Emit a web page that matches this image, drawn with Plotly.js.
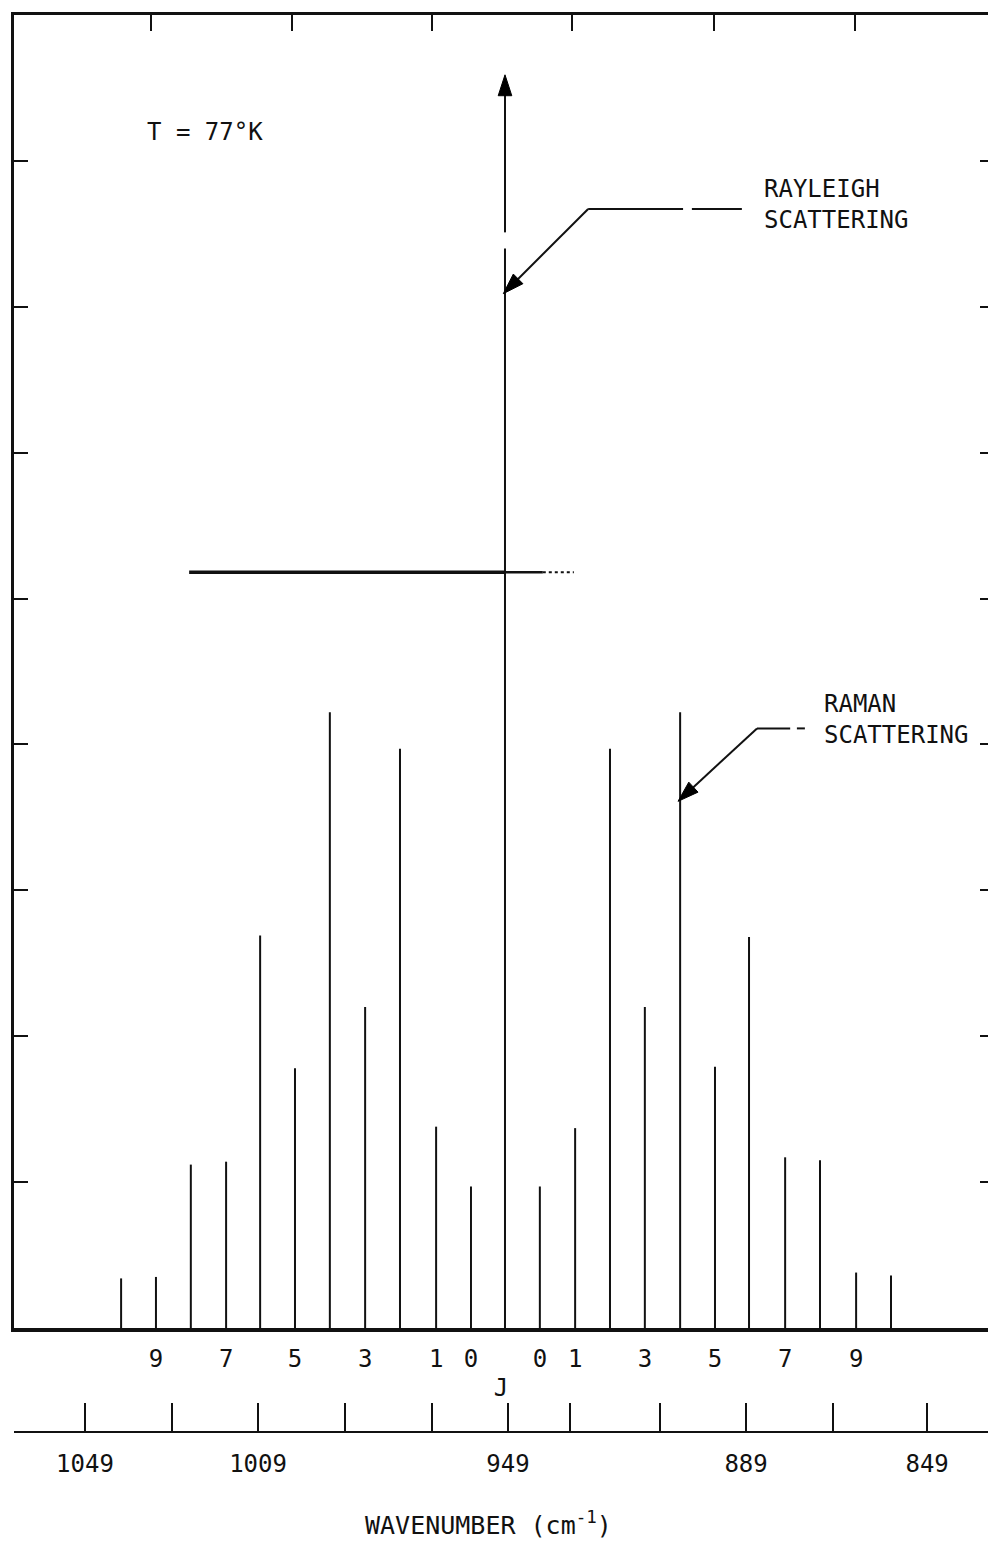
<!DOCTYPE html>
<html>
<head>
<meta charset="utf-8">
<script src="https://cdn.plot.ly/plotly-3.0.1.min.js"></script>
<style>
  html, body { margin: 0; padding: 0; background: #fff; }
  #chart { width: 988px; height: 1545px; }
</style>
</head>
<body>
<div id="chart"></div>
<script>
// ---- data ----
// anti-Stokes side (left), J = 10 ... 0
const jLeft      = [10, 9, 8, 7, 6, 5, 4, 3, 2, 1, 0];
const wnLeft     = [1040.4, 1032.1, 1023.8, 1015.4, 1007.3, 999.0, 990.7, 982.3, 974.0, 965.4, 957.1];
const intLeft    = [0.34, 0.35, 1.12, 1.14, 2.69, 1.78, 4.22, 2.20, 3.97, 1.38, 0.97];
// Stokes side (right), J = 0 ... 10
const jRight     = [0, 1, 2, 3, 4, 5, 6, 7, 8, 9, 10];
const wnRight    = [940.7, 932.3, 924.0, 915.7, 907.3, 899.0, 890.9, 882.3, 874.0, 865.4, 857.1];
const intRight   = [0.97, 1.37, 3.97, 2.20, 4.22, 1.79, 2.68, 1.17, 1.15, 0.38, 0.36];
// Rayleigh line (off scale, arrow)
const rayleighWn  = 949;
const rayleighInt = 8.59;
const rayleighGap = [7.40, 7.51];
// hand-drawn reference line
const refLineWn = [1024.2, 949.0, 940.0, 932.6];
const refLineY  = 5.18;
// J labels shown under the lines
const jLabelSet = [0, 1, 3, 5, 7, 9];
// wavenumber axis ticks
const wnTickVals = [1049, 1028.3, 1007.8, 987.1, 966.4, 948.3, 933.5, 912.1, 891.6, 870.9, 848.5];
const wnTickText = ['1049', ' ', '1009', ' ', ' ', '949', ' ', ' ', '889', ' ', '849'];
// top frame ticks
const topTickVals = [1033.3, 999.7, 966.4, 933.0, 899.2, 865.7];
// intensity frame ticks
const yTickVals = [1, 2, 3, 4, 5, 6, 7, 8];
// callout pointers: [tailX, tailY, tipX, tipY]
const rayleighPointer = [929.2, 7.67, 949.4, 7.09];
const ramanPointer    = [889.0, 4.11, 907.8, 3.61];

const FONT = 'DejaVu Sans Mono, monospace';
const INK = '#111';
const FS = 24;
const xRange = [1065.9, 834.0];

// build the stick spectrum
const lx = [], ly = [];
function stick(x, h) { lx.push(x, x, null); ly.push(0, h, null); }
wnLeft.forEach((w, i) => stick(w, intLeft[i]));
wnRight.forEach((w, i) => stick(w, intRight[i]));
// Rayleigh line with small break
lx.push(rayleighWn, rayleighWn, null, rayleighWn, rayleighWn, null);
ly.push(0, rayleighGap[0], null, rayleighGap[1], rayleighInt - 0.15, null);

const jTickVals = [], jTickText = [];
jLeft.forEach((j, i) => { if (jLabelSet.includes(j)) { jTickVals.push(wnLeft[i]); jTickText.push(String(j)); } });
jRight.forEach((j, i) => { if (jLabelSet.includes(j)) { jTickVals.push(wnRight[i]); jTickText.push(String(j)); } });

function arrowTrace(tx, ty, hx, hy, size) {
  return { x: [tx, hx], y: [ty, hy], type: 'scatter', mode: 'lines+markers',
    line: { color: INK, width: 2 },
    marker: { symbol: 'arrow', size: [0, size], angleref: 'previous', color: '#000', opacity: 1, line: { width: 1, color: '#000' } },
    hoverinfo: 'skip', showlegend: false };
}

const traces = [
  { x: lx, y: ly, type: 'scatter', mode: 'lines', line: { color: INK, width: 2 }, hoverinfo: 'skip', showlegend: false },
  { x: refLineWn.slice(0, 2), y: [refLineY, refLineY], type: 'scatter', mode: 'lines', line: { color: INK, width: 3.5 }, hoverinfo: 'skip', showlegend: false },
  { x: refLineWn.slice(1, 3), y: [refLineY, refLineY], type: 'scatter', mode: 'lines', line: { color: INK, width: 2.5 }, hoverinfo: 'skip', showlegend: false },
  { x: refLineWn.slice(2), y: [refLineY, refLineY], type: 'scatter', mode: 'lines', line: { color: INK, width: 2, dash: 'dot' }, hoverinfo: 'skip', showlegend: false },
  arrowTrace(rayleighWn, rayleighInt - 0.3, rayleighWn, rayleighInt, 22),
  arrowTrace(rayleighPointer[0], rayleighPointer[1], rayleighPointer[2], rayleighPointer[3], 22),
  arrowTrace(ramanPointer[0], ramanPointer[1], ramanPointer[2], ramanPointer[3], 22),
  { x: [null], y: [null], xaxis: 'x2', yaxis: 'y2', type: 'scatter', mode: 'lines', showlegend: false },
  { x: [null], y: [null], xaxis: 'x3', yaxis: 'y', type: 'scatter', mode: 'lines', showlegend: false }
];

const yDomLow = (1432 - 1328) / 1417;

const layout = {
  width: 988, height: 1545,
  margin: { l: 14, r: 0, t: 15, b: 113 },
  paper_bgcolor: '#fff', plot_bgcolor: '#fff',
  font: { family: FONT, color: INK, size: FS },
  showlegend: false,
  xaxis: {
    range: xRange, anchor: 'y', side: 'bottom',
    showgrid: false, zeroline: false,
    showline: true, linecolor: INK, linewidth: 4,
    ticks: '', tickmode: 'array', tickvals: jTickVals, ticktext: jTickText,
    tickfont: { family: FONT, size: FS, color: INK },
    ticklabelstandoff: 6,
    title: { text: 'J', font: { family: FONT, size: FS, color: INK }, standoff: 8 },
    automargin: false
  },
  xaxis2: {
    matches: 'x', overlaying: 'x', anchor: 'y', side: 'top',
    showgrid: false, zeroline: false,
    showline: true, linecolor: INK, linewidth: 3,
    ticks: 'inside', ticklen: 16, tickwidth: 2, tickcolor: INK,
    tickmode: 'array', tickvals: topTickVals, showticklabels: false,
    automargin: false
  },
  xaxis3: {
    matches: 'x', overlaying: 'x', anchor: 'free', position: 0, side: 'bottom',
    showgrid: false, zeroline: false,
    showline: true, linecolor: INK, linewidth: 2,
    ticks: 'inside', ticklen: 28, tickwidth: 2, tickcolor: INK,
    tickmode: 'array', tickvals: wnTickVals, ticktext: wnTickText,
    tickfont: { family: FONT, size: FS, color: INK },
    ticklabelstandoff: 10,
    automargin: false
  },
  yaxis: {
    range: [0, 9], domain: [yDomLow, 1], anchor: 'x', side: 'left',
    showgrid: false, zeroline: false,
    showline: true, linecolor: INK, linewidth: 3,
    ticks: 'inside', ticklen: 14, tickwidth: 2, tickcolor: INK,
    tickmode: 'array', tickvals: yTickVals, showticklabels: false,
    automargin: false
  },
  yaxis2: {
    matches: 'y', overlaying: 'y', anchor: 'x2', side: 'right',
    showgrid: false, zeroline: false, showline: false,
    ticks: 'inside', ticklen: 8, tickwidth: 2, tickcolor: INK,
    tickmode: 'array', tickvals: yTickVals, showticklabels: false,
    automargin: false
  },
  shapes: [
    // Rayleigh leader (horizontal, with small break)
    { type: 'line', xref: 'x', yref: 'y', x0: 929.2, x1: 906.6, y0: 7.67, y1: 7.67, line: { color: INK, width: 2 } },
    { type: 'line', xref: 'x', yref: 'y', x0: 904.5, x1: 892.6, y0: 7.67, y1: 7.67, line: { color: INK, width: 2 } },
    // Raman leader
    { type: 'line', xref: 'x', yref: 'y', x0: 889.0, x1: 881.1, y0: 4.11, y1: 4.11, line: { color: INK, width: 2 } },
    { type: 'line', xref: 'x', yref: 'y', x0: 879.5, x1: 877.6, y0: 4.11, y1: 4.11, line: { color: INK, width: 2 } }
  ],
  annotations: [
    { x: 1034.7, y: 8.2, xref: 'x', yref: 'y', xanchor: 'left', yanchor: 'middle', showarrow: false,
      text: 'T = 77°K', font: { family: FONT, size: FS, color: INK } },
    { x: 887.8, y: 7.70, xref: 'x', yref: 'y', xanchor: 'left', yanchor: 'middle', align: 'left', showarrow: false,
      text: 'RAYLEIGH<br>SCATTERING', font: { family: FONT, size: FS, color: INK } },
    { x: 873.5, y: 4.17, xref: 'x', yref: 'y', xanchor: 'left', yanchor: 'middle', align: 'left', showarrow: false,
      text: 'RAMAN<br>SCATTERING', font: { family: FONT, size: FS, color: INK } },
    { x: (488 - 14) / 974, y: (1432 - 1523) / 1417, xref: 'paper', yref: 'paper', xanchor: 'center', yanchor: 'middle', showarrow: false,
      text: 'WAVENUMBER (cm<sup>-1</sup>)', font: { family: FONT, size: 25, color: INK } }
  ]
};

Plotly.newPlot('chart', traces, layout, { staticPlot: true, displayModeBar: false });
</script>
</body>
</html>
